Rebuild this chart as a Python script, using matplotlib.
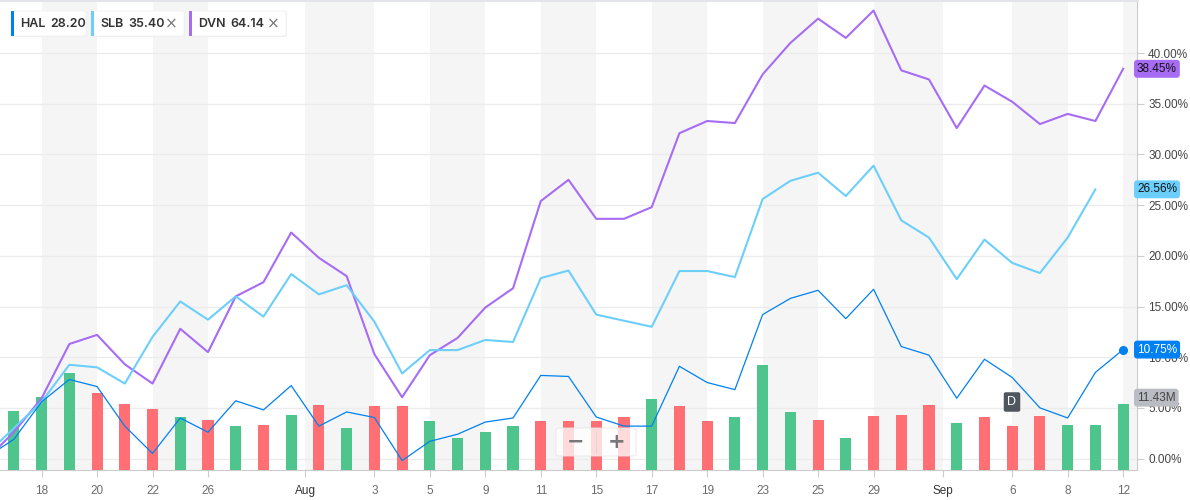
import numpy as np
import matplotlib.pyplot as plt
from matplotlib.patches import FancyBboxPatch, Rectangle
import matplotlib.transforms as mtransforms

# session index -1 is the day before the window (clipped at the left edge)
hal = [0.1, 1.9, 5.6, 7.8, 7.1, 3.2, 0.5, 4.0, 2.6, 5.7, 4.8, 7.2,
       3.2, 4.6, 4.05, -0.2, 1.7, 2.4, 3.6, 4.0, 8.2, 8.1,
       4.1, 3.2, 3.2, 9.1, 7.5, 6.8, 14.2, 15.8, 16.6, 13.8,
       16.7, 11.05, 10.2, 5.95, 9.8, 8.0, 5.0, 4.0, 8.5, 10.75]
slb = [0.4, 3.0, 5.6, 9.25, 9.0, 7.4, 12.0, 15.5, 13.7, 16.0, 14.0, 18.2,
       16.2, 17.1, 13.5, 8.4, 10.7, 10.7, 11.7, 11.5, 17.8, 18.55,
       14.2, 13.6, 13.0, 18.5, 18.5, 17.9, 25.6, 27.4, 28.2, 25.9,
       28.9, 23.5, 21.8, 17.7, 21.6, 19.3, 18.3, 21.8, 26.56]
dvn = [-0.1, 2.6, 5.95, 11.3, 12.2, 9.3, 7.4, 12.8, 10.5, 16.0, 17.4, 22.3,
       19.8, 18.0, 10.3, 6.05, 10.2, 11.9, 14.9, 16.8, 25.4, 27.5,
       23.65, 23.65, 24.8, 32.1, 33.3, 33.1, 37.9, 41.0, 43.4, 41.5,
       44.2, 38.3, 37.4, 32.6, 36.8, 35.2, 33.0, 34.0, 33.3, 38.45]

# volume in millions, sessions 0..40, g = up day, r = down day
volume = [10.2, 12.7, 16.8, 13.4, 11.4, 10.6, 9.1, 8.7, 7.6, 7.8, 9.5,
          11.3, 7.3, 11.0, 11.0, 8.5, 5.6, 6.5, 7.6, 8.4, 8.5,
          8.4, 9.1, 12.3, 11.0, 8.5, 9.1, 18.2, 10.0, 8.7, 5.6, 9.4,
          9.5, 11.3, 8.2, 9.1, 7.7, 9.4, 7.8, 7.8, 11.43]
vol_dir = "gggrrrgrgrgrgrrggggrrrrgrrgggrgrrrgrrrgg"

tick_pos = [1, 3, 5, 7, 10.5, 13, 15, 17, 19, 21, 23, 25, 27, 29, 31, 33.5, 36, 38, 40]
tick_lab = ['18', '20', '22', '26', 'Aug', '3', '5', '9', '11', '15', '17', '19',
            '23', '25', '29', 'Sep', '6', '8', '12']

legend = [('HAL', '28.20', '#0081f2', False),
          ('SLB', '35.40', '#6ccffb', True),
          ('DVN', '64.14', '#a66cf4', True)]

c_hal, c_slb, c_dvn = '#0081f2', '#6ccffb', '#a66cf4'
c_up, c_down = '#4dc58c', '#ff6f74'

W, H = 1190, 500
fig = plt.figure(figsize=(W / 100, H / 100), dpi=100)
plt.rcParams['font.family'] = ['Liberation Sans', 'DejaVu Sans']

rect = [0, 30 / H, 1137 / W, 470 / H]
base = fig.add_axes(rect)
axv = base.twinx()
axl = base.twinx()

xlim = (-0.5, 40.5)
ylim = (-1.13, 45.24)
base.set_xlim(xlim)
base.set_ylim(ylim)
axl.set_ylim(ylim)
axv.set_ylim(0, 81.4)

# stripes between every other pair of ticks
edges = tick_pos + [xlim[1]]
for k in range(0, len(edges) - 1, 2):
    base.axvspan(edges[k], edges[k + 1], color='#f5f5f5', lw=0, zorder=0)

yt = np.arange(0, 45, 5)
base.set_yticks(yt, ['%.2f%%' % v for v in yt])
base.yaxis.tick_right()
base.grid(axis='y', color='#ececec', lw=1)
base.set_axisbelow(True)
base.tick_params(axis='y', length=5, color='#cccccc', labelsize=8.5,
                 labelcolor='#444444', pad=3)
base.set_xticks(tick_pos, tick_lab)
base.tick_params(axis='x', length=5, color='#cccccc', labelsize=8.5,
                 labelcolor='#6b6b6b', pad=6)
for t in base.get_xticklabels():
    if t.get_text() in ('Aug', 'Sep'):
        t.set_color('#333333')

base.spines['left'].set_visible(False)
base.spines['right'].set_color('#cccccc')
base.spines['bottom'].set_color('#cccccc')
base.spines['top'].set_color('#e1e4e9')
base.spines['top'].set_linewidth(2)

for a in (axv, axl):
    a.tick_params(axis='both', which='both', left=False, right=False, bottom=False,
                  top=False, labelleft=False, labelright=False, labelbottom=False)
    for s in a.spines.values():
        s.set_visible(False)

days = np.arange(len(volume))
bar_colors = [c_up if d == 'g' else c_down for d in vol_dir]
axv.bar(days, volume, width=0.4, color=bar_colors, zorder=2)

x_hal = np.arange(len(hal)) - 1
x_slb = np.arange(len(slb)) - 1
x_dvn = np.arange(len(dvn)) - 1
axl.plot(x_dvn, dvn, color=c_dvn, lw=1.5, zorder=3)
axl.plot(x_slb, slb, color=c_slb, lw=1.5, zorder=3)
axl.plot(x_hal, hal, color=c_hal, lw=0.9, zorder=4)
axl.plot(x_hal[-1], hal[-1], 'o', color=c_hal, ms=5.5, zorder=5)
axl.set_xlim(xlim)

# last value tags on the right
tr = mtransforms.blended_transform_factory(base.transAxes, base.transData)
for val, fc, tc in [(dvn[-1], c_dvn, '#111111'), (slb[-1], c_slb, '#111111'),
                    (hal[-1], c_hal, 'white')]:
    base.text(1.0, val, '%.2f%%' % val, transform=tr, ha='left', va='center',
              fontsize=8.5, color=tc, clip_on=False, zorder=10,
              bbox=dict(boxstyle='round,pad=0.25,rounding_size=0.25', fc=fc, ec='none'))
trv = mtransforms.blended_transform_factory(axv.transAxes, axv.transData)
axv.text(1.0, volume[-1] + 1.1, '%.2fM' % volume[-1], transform=trv, ha='left',
         va='center', fontsize=8.5, color='#444444', clip_on=False, zorder=10,
         bbox=dict(boxstyle='round,pad=0.25,rounding_size=0.25', fc='#b9bcc2', ec='none'))


def fx(x):
    return x / W


def fy(y):
    return 1 - y / H


# legend chips
x0 = 11
for name, price, col, closable in legend:
    w = 75 if not closable else 93
    if name == 'DVN':
        w = 97
    fig.patches.append(FancyBboxPatch((fx(x0 + 1), fy(37)), fx(w), 26 / H,
                       boxstyle='round,pad=0,rounding_size=0.003', fc='#eef0f3',
                       ec='none', transform=fig.transFigure, zorder=1))
    fig.patches.append(FancyBboxPatch((fx(x0), fy(36)), fx(w), 25 / H,
                       boxstyle='round,pad=0,rounding_size=0.003', fc='white',
                       ec='#f0f0f0', lw=0.5, transform=fig.transFigure, zorder=2))
    fig.patches.append(Rectangle((fx(x0), fy(36)), fx(3), 25 / H, fc=col,
                       ec='none', transform=fig.transFigure, zorder=3))
    fig.text(fx(x0 + 9), fy(24), name, fontsize=9, color='#333333',
             family=['Inter', 'DejaVu Sans'], weight='semibold', va='center', zorder=4)
    off = 29 if name != 'DVN' else 31
    if name == 'SLB':
        off = 27
    fig.text(fx(x0 + 9 + off + 1), fy(24), price, fontsize=9, color='#333333',
             family=['Inter', 'DejaVu Sans'], weight='semibold', va='center', zorder=4)
    if closable:
        fig.text(fx(x0 + w - 13), fy(24), '\u00d7', fontsize=11, color='#777777',
                 family=['DejaVu Sans'], va='center', ha='center', zorder=4)
    x0 += w + 5

# zoom control
fig.patches.append(FancyBboxPatch((fx(556), fy(456)), fx(80), 28 / H,
                   boxstyle='round,pad=0,rounding_size=0.004', fc='white', alpha=0.75,
                   ec='#e6e6e6', lw=0.8, transform=fig.transFigure, zorder=5))
fig.lines.append(plt.Line2D([fx(596), fx(596)], [fy(432), fy(452)], color='#d8d8d8',
                            lw=0.8, transform=fig.transFigure, zorder=6))
fig.text(fx(576), fy(442), '\u2212', fontsize=15, color='#777777', weight='bold',
         ha='center', va='center', family=['DejaVu Sans'], zorder=6)
fig.text(fx(617), fy(442), '+', fontsize=15, color='#777777', weight='bold',
         ha='center', va='center', family=['DejaVu Sans'], zorder=6)

# dividend marker
fig.text(fx(1012), fy(402), 'D', fontsize=9, color='white', ha='center', va='center',
         zorder=6, bbox=dict(boxstyle='round,pad=0.3,rounding_size=0.15',
                             fc='#50565e', ec='none'))

fig.savefig('out.png', dpi=100)
